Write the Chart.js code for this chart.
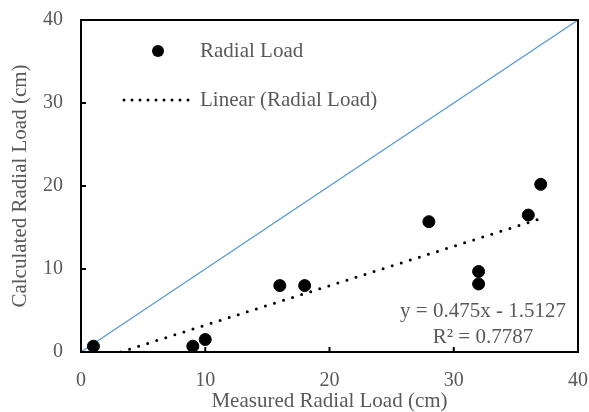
<!DOCTYPE html>
<html>
<head>
<meta charset="utf-8">
<script src="https://cdn.jsdelivr.net/npm/chart.js@4/dist/chart.umd.min.js"></script>
<style>
  html, body { margin: 0; padding: 0; background: #fff; }
  #wrap { width: 589px; height: 412px; }
</style>
</head>
<body>
<div id="wrap"><canvas id="chart"></canvas></div>
<script>
// measured vs calculated radial load (cm)
const measured = [1, 9, 10, 16, 18, 28, 32, 32, 36, 37];
const calculated = [0.7, 0.7, 1.5, 8.0, 8.0, 15.7, 9.7, 8.2, 16.5, 20.2];
// trendline end points as seen on the chart (clipped at y = 0)
const trendX = [3.18, 37];
const trendY = [0, 16.06];
// 1:1 reference line
const refX = [0, 40];
const refY = [0, 40];
const axisTicks = [0, 10, 20, 30, 40];
const equationText = ['y = 0.475x - 1.5127', 'R\u00b2 = 0.7787'];

const grey = '#595959';
const serif = "'Liberation Serif', 'Times New Roman', serif";

function toPoints(xs, ys) {
    return xs.map((x, i) => ({x: x, y: ys[i]}));
}

//frame, inward ticks, legend and trendline equation
const decorations = {
    id: 'decorations',
    afterDraw(chart) {
        const ctx = chart.ctx;
        const a = chart.chartArea;
        const xs = chart.scales.x;
        const ys = chart.scales.y;
        ctx.save();
        ctx.strokeStyle = '#000';
        ctx.lineWidth = 2;
        ctx.setLineDash([]);
        ctx.strokeRect(a.left, a.top, a.right - a.left, a.bottom - a.top);
        ctx.beginPath();
        axisTicks.forEach(v => {
            const px = xs.getPixelForValue(v);
            ctx.moveTo(px, a.bottom);
            ctx.lineTo(px, a.bottom - 5);
            const py = ys.getPixelForValue(v);
            ctx.moveTo(a.left, py);
            ctx.lineTo(a.left + 5, py);
        });
        ctx.stroke();

        // legend
        const ds = chart.data.datasets;
        ctx.font = '21px ' + serif;
        ctx.fillStyle = grey;
        ctx.textBaseline = 'middle';
        ctx.textAlign = 'left';
        const lx = a.left + 119;
        ctx.fillText(ds[0].label, lx, a.top + 31);
        ctx.fillText(ds[1].label, lx, a.top + 80);
        ctx.fillStyle = '#000';
        ctx.beginPath();
        ctx.arc(a.left + 77, a.top + 31, 6, 0, Math.PI * 2);
        ctx.fill();
        ctx.lineWidth = 3;
        ctx.lineCap = 'round';
        ctx.setLineDash([0, 8]);
        ctx.beginPath();
        ctx.moveTo(a.left + 43, a.top + 80);
        ctx.lineTo(a.left + 108, a.top + 80);
        ctx.stroke();

        // equation
        ctx.setLineDash([]);
        ctx.fillStyle = grey;
        ctx.textAlign = 'center';
        ctx.fillText(equationText[0], a.right - 95, a.bottom - 41);
        ctx.fillText(equationText[1], a.right - 95, a.bottom - 15);
        ctx.restore();
    }
};

const context = document.getElementById('chart').getContext('2d');
new Chart(context, {
    type: 'scatter',
    data: {
        datasets: [
            {
                label: 'Radial Load',
                data: toPoints(measured, calculated),
                backgroundColor: '#000',
                borderColor: '#000',
                pointRadius: 6,
                pointHoverRadius: 6,
                showLine: false
            },
            {
                label: 'Linear (Radial Load)',
                data: toPoints(trendX, trendY),
                borderColor: '#000',
                borderWidth: 3,
                borderDash: [0, 9.5],
                borderCapStyle: 'round',
                pointRadius: 0,
                showLine: true
            },
            {
                label: 'Reference',
                data: toPoints(refX, refY),
                borderColor: '#5B9BD5',
                borderWidth: 1.3,
                pointRadius: 0,
                showLine: true
            }
        ]
    },
    options: {
        responsive: true,
        maintainAspectRatio: false,
        animation: false,
        layout: {padding: {top: 20, right: 11, left: 0, bottom: 0}},
        plugins: {
            legend: {display: false},
            tooltip: {enabled: false}
        },
        scales: {
            x: {
                type: 'linear',
                min: 0,
                max: 40,
                afterFit: s => { s.height = 60; s.paddingLeft = 0; s.paddingRight = 0; },
                afterBuildTicks: s => { s.ticks = axisTicks.map(v => ({value: v})); },
                grid: {display: false},
                border: {display: false},
                ticks: {color: grey, font: {family: serif, size: 20}, padding: 9, maxRotation: 0},
                title: {
                    display: true,
                    text: 'Measured Radial Load (cm)',
                    color: grey,
                    font: {family: serif, size: 21, lineHeight: 1},
                    padding: {top: 0, bottom: 0}
                }
            },
            y: {
                type: 'linear',
                min: 0,
                max: 40,
                afterFit: s => { s.width = 81; s.paddingTop = 0; s.paddingBottom = 0; },
                afterBuildTicks: s => { s.ticks = axisTicks.map(v => ({value: v})); },
                grid: {display: false},
                border: {display: false},
                ticks: {color: grey, font: {family: serif, size: 20}, padding: 10},
                title: {
                    display: true,
                    text: 'Calculated Radial Load (cm)',
                    color: grey,
                    font: {family: serif, size: 21, lineHeight: 1},
                    padding: {top: 10, bottom: 0}
                }
            }
        }
    },
    plugins: [decorations]
});
</script>
</body>
</html>
